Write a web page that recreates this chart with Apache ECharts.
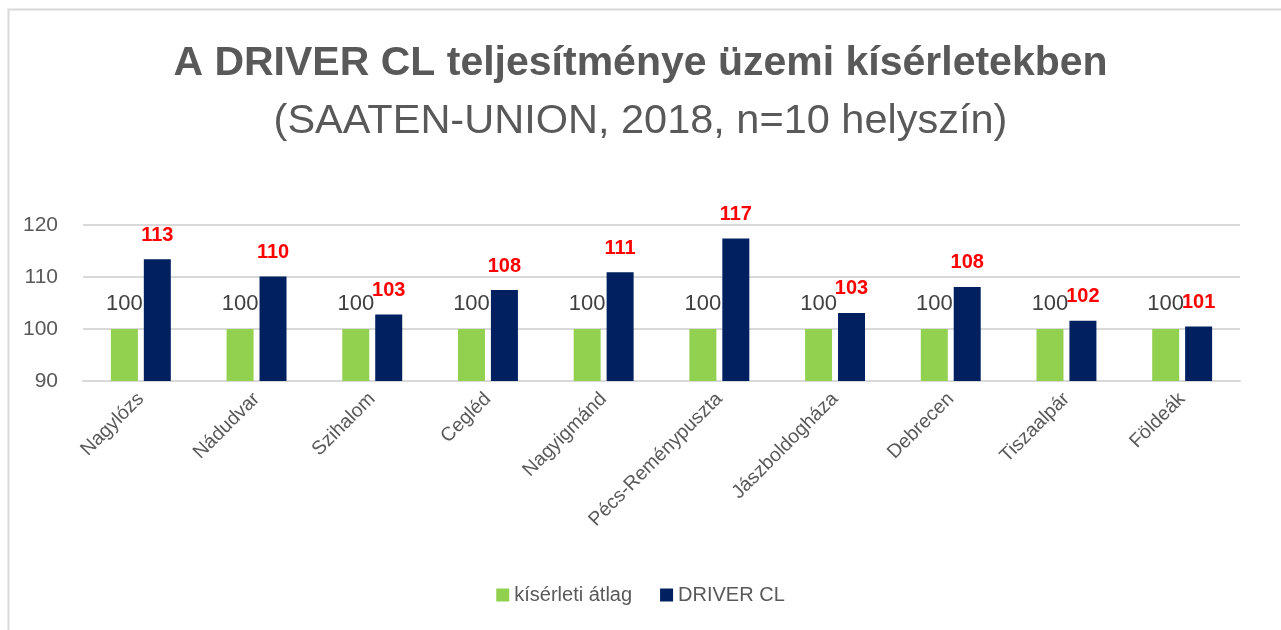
<!DOCTYPE html>
<html>
<head>
<meta charset="utf-8">
<script src="https://cdn.jsdelivr.net/npm/echarts@6/dist/echarts.min.js"></script>
<style>
html,body{margin:0;padding:0;background:#fff;}
#chart{width:1281px;height:630px;}
</style>
</head>
<body>
<div id="chart"></div>
<script>
const titleText = 'A DRIVER CL teljesítménye üzemi kísérletekben';
const subtitleText = '(SAATEN-UNION, 2018, n=10 helyszín)';
const categories = ['Nagylózs','Nádudvar','Szihalom','Cegléd','Nagyigmánd','Pécs-Reménypuszta','Jászboldogháza','Debrecen','Tiszaalpár','Földeák'];
const seriesNames = ['kísérleti átlag','DRIVER CL'];
const averageValues = [100,100,100,100,100,100,100,100,100,100];
const driverValues = [113.4,110.1,102.8,107.5,110.9,117.4,103.1,108.1,101.6,100.5];
const yTicks = [90,100,110,120];

const font = '"Liberation Sans", Arial, sans-serif';
const chart = echarts.init(document.getElementById('chart'));
chart.setOption({
  backgroundColor: '#ffffff',
  animation: false,
  graphic: [{
    type: 'rect', left: 6, top: 7, silent: true,
    shape: {width: 1400, height: 800},
    style: {fill: 'none', stroke: '#d9d9d9', lineWidth: 2}
  }],
  title: [
    {text: titleText, left: 'center', top: 38,
     textStyle: {fontFamily: font, fontSize: 41, fontWeight: 'bold', color: '#595959'}},
    {text: subtitleText, left: 'center', top: 96,
     textStyle: {fontFamily: font, fontSize: 41.5, fontWeight: 'normal', color: '#595959'}}
  ],
  legend: {
    bottom: 20, left: 'center',
    itemWidth: 13, itemHeight: 13, itemGap: 28,
    icon: 'rect',
    textStyle: {fontFamily: font, fontSize: 20, color: '#595959'},
    data: seriesNames
  },
  grid: {left: 83, right: 41, top: 225, bottom: 249},
  xAxis: {
    type: 'category', data: categories,
    axisLine: {show: true, lineStyle: {color: '#d9d9d9', width: 2}},
    axisTick: {show: false},
    axisLabel: {rotate: 45, interval: 0, color: '#595959', fontFamily: font, fontSize: 19.5, margin: 15}
  },
  yAxis: {
    type: 'value', min: yTicks[0], max: yTicks[yTicks.length-1], interval: 10,
    axisLine: {show: false}, axisTick: {show: false},
    splitLine: {lineStyle: {color: '#d9d9d9', width: 2}},
    axisLabel: {color: '#595959', fontFamily: font, fontSize: 21, margin: 25}
  },
  series: [
    {name: seriesNames[0], type: 'bar', data: averageValues, barWidth: 27, barGap: '22%',
     itemStyle: {color: '#92d050'},
     label: {show: true, position: 'top', distance: 14, color: '#404040', fontFamily: font, fontSize: 22,
             formatter: p => Math.round(p.value)}},
    {name: seriesNames[1], type: 'bar', data: driverValues, barWidth: 27,
     itemStyle: {color: '#002060'},
     label: {show: true, position: 'top', distance: 14, color: '#ff0000', fontFamily: font, fontSize: 20, fontWeight: 'bold',
             formatter: p => Math.round(p.value)}}
  ]
});
</script>
</body>
</html>
